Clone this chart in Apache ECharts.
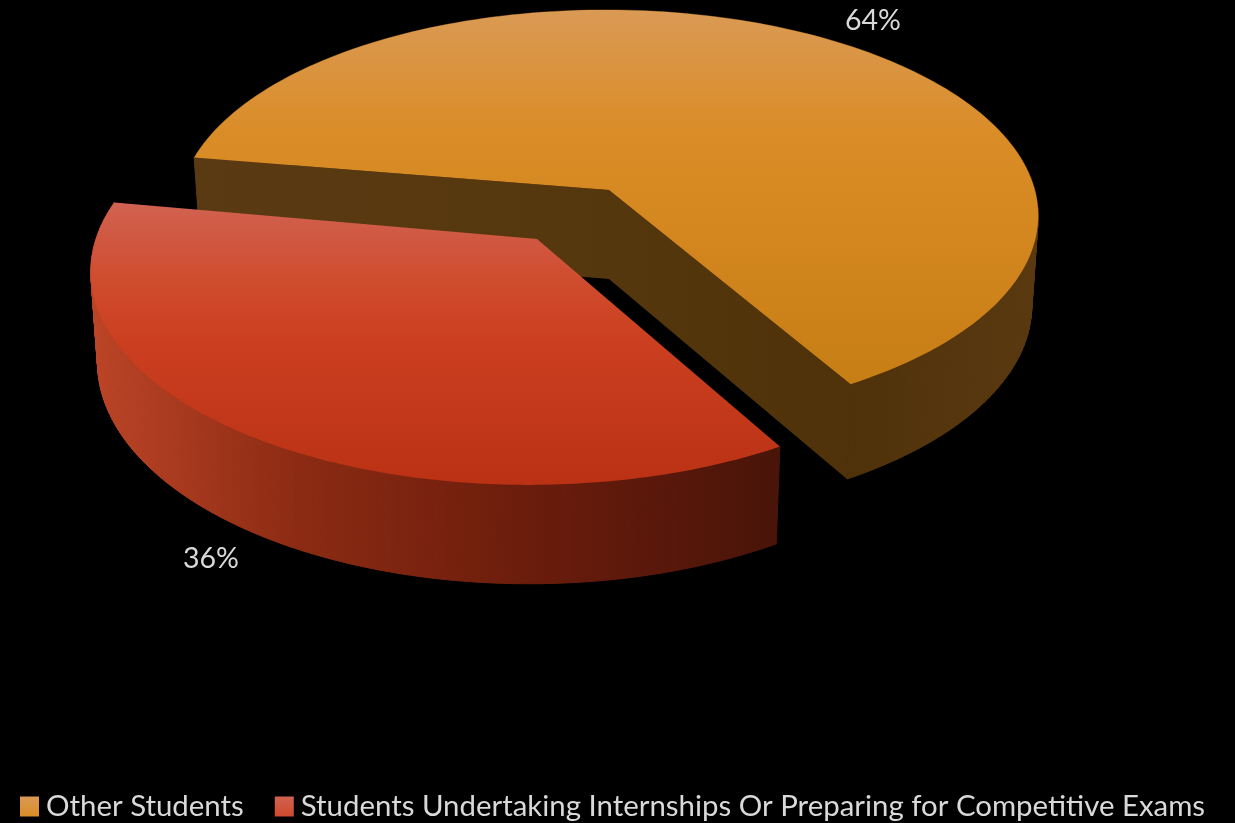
<!DOCTYPE html>
<html>
<head>
<meta charset="utf-8">
<script src="https://cdn.jsdelivr.net/npm/echarts@6/dist/echarts.min.js"></script>
<style>html,body{margin:0;padding:0;background:#000;overflow:hidden}#c{width:1235px;height:823px}</style>
</head>
<body>
<div id="c"></div>
<script>
const categories = ['Other Students', 'Students Undertaking Internships Or Preparing for Competitive Exams'];
const values = [64, 36];
const valueLabels = ['64%', '36%'];

const total = values.reduce((a, b) => a + b, 0);
const G = (x, y, x2, y2, stops, global) => new echarts.graphic.LinearGradient(x, y, x2, y2,
  stops.map(s => ({ offset: s[0], color: s[1] })), global);

// Projection of each exploded slice onto the page (layout only)
const layouts = [
  { apex: [609, 190], ax: 427, sx: -8, ay: 201.6, sy: 5, k: 0.12, m: 0, start: 278, lowY: 1.03, label: [873, 21],
    topY: [10, 385], wallX: [196, 1040],
    top: [[0, '#DA9A55'], [0.33, '#DA8C26'], [0.6, '#D4861F'], [1, '#C67E15']],
    wall: [[0, '#5A3A12'], [0.5, '#55370D'], [0.78, '#50320A'], [1, '#5A3910']], inner: true },
  { apex: [537, 239], ax: 434, sx: 0, ay: 209, sy: 0, k: 0.15, m: 0.016, start: 150.6, lowY: 1.04, label: [211, 559],
    topY: [203, 485], wallX: [90, 779],
    top: [[0, '#D16251'], [0.3, '#CF4A2B'], [0.5, '#CB3F20'], [1, '#BA3114']],
    wall: [[0, '#BD4527'], [0.3, '#8C2B13'], [0.65, '#6A1C0C'], [1, '#491409']], inner: false }
];

function rim(l, deg) {
  const t = deg * Math.PI / 180, X = Math.sin(t), Y = -Math.cos(t);
  const w = 1 - l.k * Y + l.m * X;
  return [(l.ax * X + l.sx * Y) / w, (l.ay * Y + l.sy * X) / w];
}
const topPt = (l, p) => [l.apex[0] + p[0], l.apex[1] + p[1]];
const lowPt = (l, p) => [l.apex[0] + 0.985 * p[0], l.apex[1] + 89 + l.lowY * p[1]];

function sliceItem(i) {
  const l = layouts[i], sweep = values[i] / total * 360, n = 160, arc = [];
  for (let j = 0; j <= n; j++) arc.push(rim(l, l.start + sweep * j / n));
  const children = [];
  const top = arc.map(p => topPt(l, p));
  const low = arc.map(p => lowPt(l, p));
  const wallFill = G(l.wallX[0], 0, l.wallX[1], 0, l.wall, true);
  for (let j = 0; j < n; j++) {
    children.push({ type: 'polygon', shape: { points: [top[j], top[j + 1], low[j + 1], low[j]] },
      style: { fill: wallFill, stroke: wallFill, lineWidth: 1 } });
  }
  if (l.inner) {
    const a0 = l.apex, a1 = lowPt(l, [0, 0]);
    children.push({ type: 'polygon', shape: { points: [top[0], a0, a1, low[0]] }, style: { fill: wallFill } });
    children.push({ type: 'polygon', shape: { points: [a0, top[n], low[n], a1] }, style: { fill: wallFill } });
  }
  children.push({ type: 'polygon', shape: { points: [l.apex].concat(top) },
    style: { fill: G(0, l.topY[0], 0, l.topY[1], l.top, true) } });
  children.push({ type: 'text', style: { text: valueLabels[i], x: l.label[0], y: l.label[1], fill: '#D9D9D9',
    font: '28.5px Lato, "Open Sans", sans-serif', textAlign: 'center', textVerticalAlign: 'middle' } });
  return { type: 'group', children };
}

const chart = echarts.init(document.getElementById('c'), null, { renderer: 'canvas' });
chart.setOption({
  backgroundColor: '#000',
  animation: false,
  legend: {
    left: 20, top: 790, padding: 0, itemWidth: 19, itemHeight: 20, itemGap: 31, icon: 'rect',
    selectedMode: false,
    data: categories,
    textStyle: { color: '#D9D9D9', fontSize: 29.4, lineHeight: 33, fontFamily: 'Lato, "Open Sans", sans-serif', padding: [0, 0, 0, 2] }
  },
  series: categories.map((name, i) => ({
    type: 'custom', name, coordinateSystem: 'none', silent: true,
    itemStyle: { color: G(0, 0, 0, 1, [[0, layouts[i].top[0][1]], [1, layouts[i].top[1][1]]]) },
    data: [values[i]],
    renderItem: () => sliceItem(i)
  }))
});
</script>
</body>
</html>
